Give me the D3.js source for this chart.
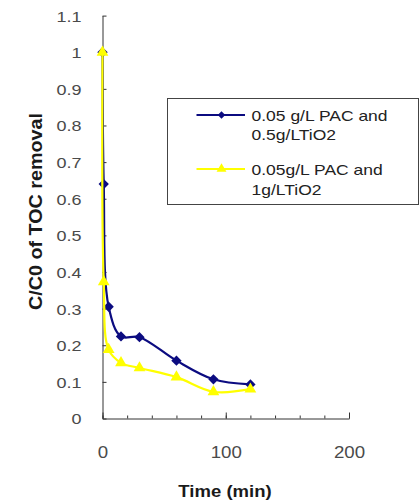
<!DOCTYPE html>
<html>
<head>
<meta charset="utf-8">
<script src="https://d3js.org/d3.v7.min.js"></script>
<style>
  html, body { margin: 0; padding: 0; background: #fff; }
  svg { display: block; }
  text { font-family: "Liberation Sans", Arial, sans-serif; }
</style>
</head>
<body>
<svg id="chart" width="420" height="503"></svg>
<script>
// ---- data ----
const times = [0, 1, 5, 15, 30, 60, 90, 120];
const seriesNames = ["0.05 g/L PAC and 0.5g/LTiO2", "0.05g/L PAC and 1g/LTiO2"];
const legendLines1 = ["0.05 g/L PAC and", "0.5g/LTiO2"];
const legendLines2 = ["0.05g/L PAC and", "1g/LTiO2"];
const pac05TiO2 = [1.0, 0.64, 0.305, 0.224, 0.222, 0.158, 0.107, 0.093];
const pac1TiO2  = [1.0, 0.373, 0.188, 0.152, 0.138, 0.113, 0.073, 0.080];
const yTickValues = [0, 0.1, 0.2, 0.3, 0.4, 0.5, 0.6, 0.7, 0.8, 0.9, 1.0, 1.1];
const yTickLabels = ["0", "0.1", "0.2", "0.3", "0.4", "0.5", "0.6", "0.7", "0.8", "0.9", "1", "1.1"];
const xTickValues = [0, 100, 200];
const xTickLabels = ["0", "100", "200"];
const xMinorTicks = [0, 20, 40, 60, 80, 100, 120, 140, 160, 180, 200];
const xTitle = "Time (min)";
const yTitle = "C/C0 of TOC removal";

// ---- layout ----
const svg = d3.select("#chart");
const x = d3.scaleLinear().domain([0, 200]).range([102.5, 349]);
const y = d3.scaleLinear().domain([0, 1.1]).range([418.5, 15.6]);

// minor x ticks
const gxMinor = svg.append("g").attr("transform", `translate(0,${y(0)})`)
  .call(d3.axisBottom(x).tickValues(xMinorTicks).tickSizeInner(-3).tickSizeOuter(0).tickFormat(""));
gxMinor.select(".domain").remove();
gxMinor.selectAll("line").attr("stroke", "#333");

// major x axis
const gx = svg.append("g").attr("transform", `translate(0,${y(0)})`)
  .call(d3.axisBottom(x).tickValues(xTickValues).tickSizeInner(-6).tickSizeOuter(0)
    .tickFormat((d, i) => xTickLabels[i]));
gx.select(".domain").attr("stroke", "#333");
gx.selectAll("line").attr("stroke", "#333");
gx.selectAll("text")
  .attr("y", 0).attr("dy", null)
  .attr("transform", "translate(0,39) scale(1.1,1)")
  .attr("font-size", 17).attr("fill", "#4a4a4a")
  .attr("font-family", "Liberation Sans, Arial, sans-serif");

// y axis
const gy = svg.append("g").attr("transform", `translate(${x(0)},0)`)
  .call(d3.axisLeft(y).tickValues(yTickValues).tickSizeInner(-4).tickSizeOuter(0).tickPadding(21)
    .tickFormat((d, i) => yTickLabels[i]));
gy.select(".domain").attr("stroke", "#333");
gy.selectAll("line").attr("stroke", "#333");
gy.selectAll("text")
  .attr("x", 0).attr("dy", "0.36em")
  .attr("transform", "translate(-21,0) scale(1.2,1)")
  .attr("font-size", 15).attr("fill", "#4a4a4a")
  .attr("font-family", "Liberation Sans, Arial, sans-serif");

// axis titles
svg.append("text")
  .attr("transform", "translate(225,497) scale(1.09,1)")
  .attr("text-anchor", "middle").attr("font-weight", "bold").attr("font-size", 17)
  .attr("fill", "#1a1a1a")
  .text(xTitle);

svg.append("text")
  .attr("transform", "translate(42,211.5) scale(1.2,1) rotate(-90)")
  .attr("text-anchor", "middle").attr("font-weight", "bold").attr("font-size", 15.5)
  .attr("fill", "#1a1a1a")
  .attr("textLength", 197).attr("lengthAdjust", "spacingAndGlyphs")
  .text(yTitle);

// series
const line = d3.line().curve(d3.curveCatmullRom.alpha(0.5))
  .x(d => x(d[0])).y(d => y(d[1]));
const s1 = times.map((t, i) => [t, pac05TiO2[i]]);
const s2 = times.map((t, i) => [t, pac1TiO2[i]]);
const navy = "#0b0b80", yellow = "#ffff00";

const diamond = d3.symbol().type(d3.symbolDiamond2).size(68);
const triangle = d3.symbol().type(d3.symbolTriangle).size(60);

svg.append("path").attr("d", line(s1)).attr("fill", "none").attr("stroke", navy).attr("stroke-width", 2.2);
svg.append("g").selectAll("path").data(s1).join("path")
  .attr("transform", d => `translate(${x(d[0])},${y(d[1])})`)
  .attr("d", diamond).attr("fill", navy);

svg.append("path").attr("d", line(s2)).attr("fill", "none").attr("stroke", yellow).attr("stroke-width", 2.2);
svg.append("g").selectAll("path").data(s2).join("path")
  .attr("transform", d => `translate(${x(d[0])},${y(d[1])})`)
  .attr("d", triangle).attr("fill", yellow);

// legend
const lg = svg.append("g");
lg.append("rect").attr("x", 167.5).attr("y", 98.5).attr("width", 251).attr("height", 106)
  .attr("fill", "#fff").attr("stroke", "#444").attr("stroke-width", 1);

const legendItems = [
  { color: navy, sym: d3.symbol().type(d3.symbolDiamond2).size(36), ly: 115, lines: legendLines1, base: [121, 139.5] },
  { color: yellow, sym: d3.symbol().type(d3.symbolTriangle).size(42), ly: 169, lines: legendLines2, base: [175, 195] }
];
legendItems.forEach(it => {
  lg.append("line").attr("x1", 196.5).attr("x2", 245).attr("y1", it.ly).attr("y2", it.ly)
    .attr("stroke", it.color).attr("stroke-width", 2);
  lg.append("path").attr("d", it.sym).attr("transform", `translate(221.5,${it.ly})`).attr("fill", it.color);
  it.lines.forEach((t, j) => {
    lg.append("text").attr("transform", `translate(251.5,${it.base[j]}) scale(1.25,1)`)
      .attr("font-size", 14).attr("fill", "#222").text(t);
  });
});
</script>
</body>
</html>
